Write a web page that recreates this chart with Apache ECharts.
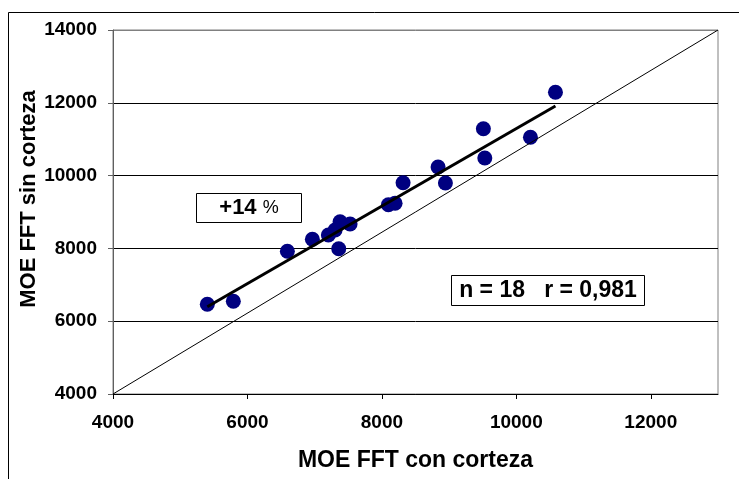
<!DOCTYPE html>
<html>
<head>
<meta charset="utf-8">
<script src="https://cdn.jsdelivr.net/npm/echarts@6/dist/echarts.min.js"></script>
<style>html,body{margin:0;padding:0;background:#fff}#c{width:739px;height:479px}</style>
</head>
<body>
<div id="c"></div>
<script>
// MOE FFT con corteza (x) vs sin corteza (y)
const conCorteza = [5403, 5790, 6594, 6966, 7358, 7204, 7304, 7378, 7527, 10582, 9510, 10210, 8836, 9531, 8315, 8945, 8097, 8196];
const sinCorteza = [6464, 6547, 7920, 8250, 7992, 8368, 8505, 8734, 8670, 12288, 11289, 11052, 10236, 10484, 9805, 9797, 9201, 9240];
const trendX = [5403, 10582];
const trendY = [6398, 11912];
const refX = [4000, 13000];
const refY = [4000, 14000];
const xTicks = [4000, 6000, 8000, 10000, 12000];
const yTicks = [4000, 6000, 8000, 10000, 12000, 14000];
const xTitle = 'MOE FFT con corteza';
const yTitle = 'MOE FFT sin corteza';
const noteDiff = '+14';
const noteStats = 'n = 18   r = 0,981';

const FONT = "'Liberation Sans', Arial, sans-serif";
const chart = echarts.init(document.getElementById('c'), null, {renderer: 'canvas'});
const pts = conCorteza.map((v, i) => [v, sinCorteza[i]]);
const trend = trendX.map((v, i) => [v, trendY[i]]);
const ref = refX.map((v, i) => [v, refY[i]]);
const plain = v => String(v);

chart.setOption({
  animation: false,
  backgroundColor: '#fff',
  grid: {left: 113, top: 30, width: 605, height: 364, show: true, borderColor: '#808080', borderWidth: 1},
  xAxis: {
    type: 'value', min: 4000, max: 13000, interval: 2000,
    axisLine: {lineStyle: {color: '#000', width: 1}},
    axisTick: {show: true, length: 5, lineStyle: {color: '#000'}, customValues: xTicks},
    axisLabel: {customValues: xTicks, formatter: plain, fontFamily: FONT, fontWeight: 'bold', fontSize: 19, color: '#000', margin: 19},
    splitLine: {show: false},
    name: xTitle, nameLocation: 'middle', nameGap: 55,
    nameTextStyle: {fontFamily: FONT, fontWeight: 'bold', fontSize: 23, color: '#000'}
  },
  yAxis: {
    type: 'value', min: 4000, max: 14000, interval: 2000,
    axisLine: {show: true, lineStyle: {color: '#606060', width: 1}},
    axisTick: {show: true, length: 5, lineStyle: {color: '#606060'}, customValues: yTicks},
    axisLabel: {customValues: yTicks, formatter: plain, fontFamily: FONT, fontWeight: 'bold', fontSize: 19, color: '#000', margin: 16},
    splitLine: {show: true, lineStyle: {color: ['#000', '#000', '#000', '#000', '#000', '#808080'], width: 1}}
  },
  graphic: [
    {type: 'rect', shape: {x: 8.5, y: 12.5, width: 800, height: 600}, style: {fill: null, stroke: '#000', lineWidth: 1}, z: 0, silent: true},
    {type: 'text', x: 29, y: 199, rotation: Math.PI / 2,
     style: {text: yTitle, fontFamily: FONT, fontWeight: 'bold', fontSize: 22, fill: '#000', align: 'center', verticalAlign: 'middle'}},
    {type: 'rect', shape: {x: 196.5, y: 193.5, width: 105, height: 29}, style: {fill: '#fff', stroke: '#000', lineWidth: 1}, z: 10},
    {type: 'text', x: 249, y: 208, z: 11,
     style: {rich: {a: {fontFamily: FONT, fontWeight: 'bold', fontSize: 22, fill: '#000'}, b: {fontFamily: FONT, fontSize: 18, fill: '#000'}},
             text: '{a|' + noteDiff + ' }{b|%}', align: 'center', verticalAlign: 'middle'}},
    {type: 'rect', shape: {x: 451.5, y: 275.5, width: 193, height: 30}, style: {fill: '#fff', stroke: '#000', lineWidth: 1}, z: 10},
    {type: 'text', x: 548, y: 291, z: 11,
     style: {text: noteStats, fontFamily: FONT, fontWeight: 'bold', fontSize: 23, fill: '#000', align: 'center', verticalAlign: 'middle'}}
  ],
  series: [
    {type: 'scatter', data: pts, symbol: 'circle', symbolSize: 15, itemStyle: {color: '#000080', opacity: 1}, z: 2},
    {type: 'line', data: ref, symbol: 'none', lineStyle: {color: '#000', width: 1}, z: 3},
    {type: 'line', data: trend, symbol: 'none', lineStyle: {color: '#000', width: 3}, z: 4}
  ]
});
</script>
</body>
</html>
